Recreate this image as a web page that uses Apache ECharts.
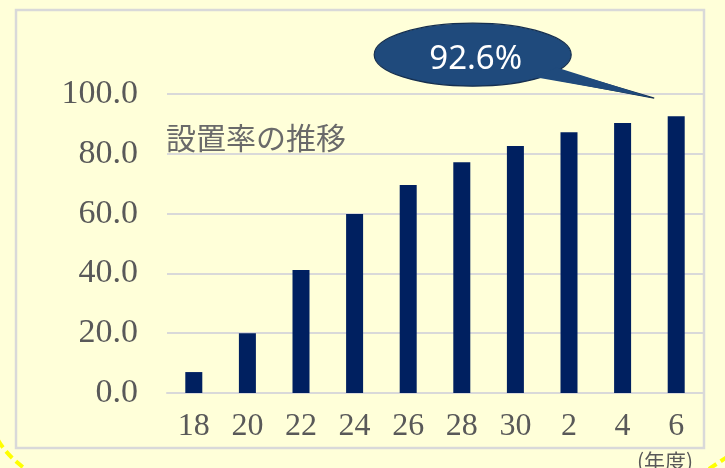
<!DOCTYPE html>
<html>
<head>
<meta charset="utf-8">
<script src="https://cdn.jsdelivr.net/npm/echarts@6/dist/echarts.min.js"></script>
<style>
html,body{margin:0;padding:0;background:#FFFFD9;}
#c{width:725px;height:468px;}
</style>
</head>
<body>
<div id="c"></div>
<script>
const categories = ['18', '20', '22', '24', '26', '28', '30', '2', '4', '6'];
const rates = [7.0, 20.0, 41.1, 59.9, 69.6, 77.2, 82.6, 87.2, 90.3, 92.6];
const yMin = 0, yMax = 100, yStep = 20;
const chartTitle = '設置率の推移';
const unitLabel = '(年度)';

const chart = echarts.init(document.getElementById('c'), null, {renderer: 'canvas'});
const serif = '"Liberation Serif", "DejaVu Serif", serif';

const option = {
  backgroundColor: '#FFFFD9',
  animation: false,
  title: {
    text: chartTitle,
    left: 161, top: 117,
    textStyle: {fontFamily: '"Noto Sans CJK JP"', fontSize: 30, fontWeight: 'normal', color: '#6a6a6a', lineHeight: 32}
  },
  grid: {left: 167, right: 22, top: 94, bottom: 75, containLabel: false},
  xAxis: {
    type: 'category', data: categories,
    axisLine: {show: true, lineStyle: {color: '#d9d9d9', width: 2}},
    axisTick: {show: false},
    axisLabel: {fontFamily: serif, fontSize: 32, color: '#595959', margin: 18}
  },
  yAxis: {
    type: 'value', min: yMin, max: yMax, interval: yStep,
    axisLine: {show: false}, axisTick: {show: false},
    splitLine: {lineStyle: {color: '#d9d9d9', width: 2}},
    axisLabel: {fontFamily: serif, fontSize: 34, color: '#595959', margin: 29,
      formatter: v => v.toFixed(1)}
  },
  series: [{
    type: 'bar', data: rates, barWidth: 17,
    itemStyle: {color: '#002060'}
  }]
};
chart.setOption(option);

const last = rates.length - 1;
const p = chart.convertToPixel({seriesIndex: 0}, [last, rates[last]]);
const cx = p[0] - 203.5, cy = p[1] - 61.5, rx = 98.5, ry = 31.5;
const b1 = [p[0] - 115, p[1] - 48], b2 = [p[0] - 139, p[1] - 38], tip = [p[0] - 22, p[1] - 18];
const inward = (b, f) => [b[0] + (cx - b[0]) * f, b[1] + (cy - b[1]) * f];
const fill = '#1F4A7C', edge = '#162f4f';

chart.setOption({
  graphic: [
    {type: 'rect', z: -10, silent: true,
      shape: {x: 16, y: 10, width: 688, height: 438},
      style: {fill: 'none', stroke: '#d9d9d9', lineWidth: 2.5}},
    {type: 'polygon', z: 99, shape: {points: [inward(b1, 0.2), inward(b2, 0.2), tip]},
      style: {fill: fill, stroke: edge, lineWidth: 1.2}},
    {type: 'ellipse', z: 100, shape: {cx: cx, cy: cy, rx: rx, ry: ry},
      style: {fill: fill, stroke: edge, lineWidth: 1.2}},
    {type: 'polygon', z: 101, shape: {points: [inward(b1, 0.05), inward(b2, 0.05), inward(tip, 0.01)]},
      style: {fill: fill}},
    {type: 'text', z: 102, x: cx + 3, y: cy + 4.5,
      style: {text: rates[last].toFixed(1) + '%', fill: '#ffffff', font: '33px "Noto Sans"',
        textAlign: 'center', textVerticalAlign: 'middle'}},
    {type: 'text', z: 50, x: 665, y: 461,
      style: {text: unitLabel, fill: '#595959', font: '21px "Noto Sans CJK JP"',
        textAlign: 'center', textVerticalAlign: 'middle'}},
    {type: 'bezierCurve', z: 50,
      shape: {x1: -2, y1: 440, cpx1: 8, cpy1: 457, x2: 27, y2: 470},
      style: {stroke: '#FFFF00', lineWidth: 4, lineDash: [9, 5], fill: 'none'}},
    {type: 'line', z: 50,
      shape: {x1: 709, y1: 469, x2: 727, y2: 457},
      style: {stroke: '#FFFF00', lineWidth: 4, lineDash: [9, 5]}}
  ]
});
</script>
</body>
</html>
